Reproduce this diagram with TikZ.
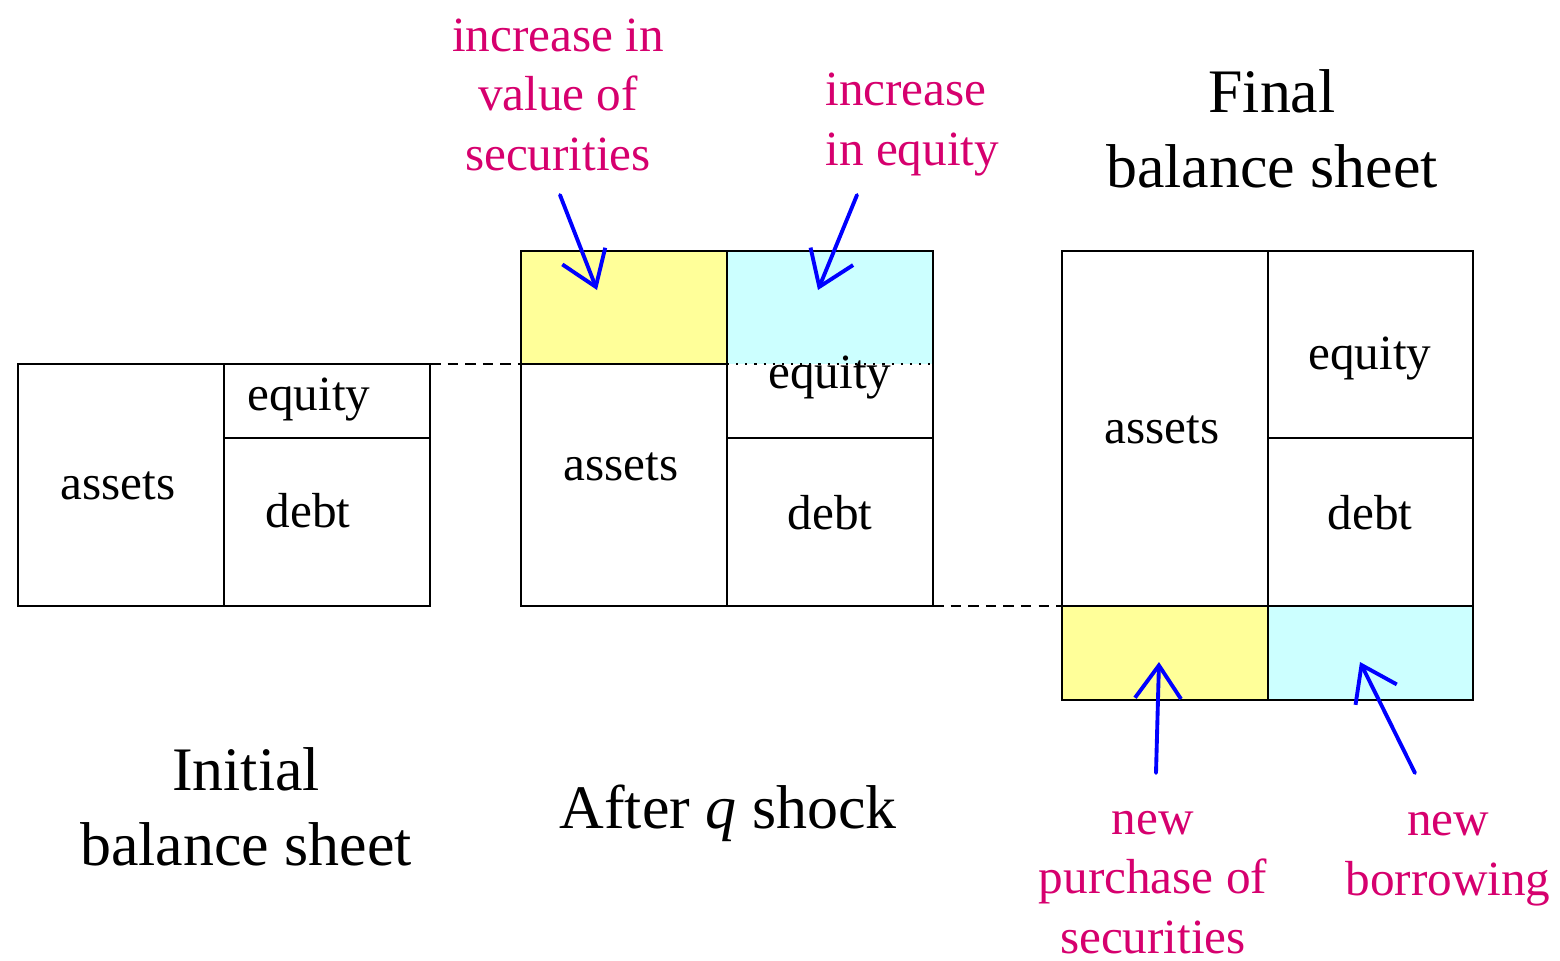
\documentclass[tikz,border=0pt]{standalone}
\usepackage{fontspec}
\setmainfont{Liberation Serif}
\usetikzlibrary{arrows.meta}
\definecolor{secyellow}{RGB}{255,255,153}
\definecolor{eqcyan}{RGB}{204,255,255}
\definecolor{notered}{RGB}{214,0,110}
\begin{document}
\begin{tikzpicture}[x=0.01cm,y=-0.01cm,
  cell/.style={draw,line width=0.6pt},
  lbl/.style={anchor=base,font=\fontsize{14}{16.8}\selectfont},
  ttl/.style={anchor=base,align=center,font=\fontsize{17.6}{21.3}\selectfont},
  note/.style={anchor=base,align=center,text=notered,font=\fontsize{14}{16.8}\selectfont},
  push/.style={-{Straight Barb[length=0.33cm,width=0.46cm]},blue,line width=1.1pt,line cap=round},
  guide/.style={line width=0.4pt,dash pattern=on 3pt off 2pt}]
  \useasboundingbox (0,0) rectangle (1560,960);
  % initial balance sheet
  \draw[cell] (18,364) rectangle (430,606);
  \draw[cell] (224,364) -- (224,606) (224,438) -- (430,438);
  \node[lbl] (ia) at (118,499) {assets};
  \node[lbl] (ie) at (309,410) {equity};
  \node[lbl] (id) at (308,527) {debt};
  \node[ttl] (it) at (246,865) {Initial\\balance sheet};
  % after the shock
  \fill[secyellow] (521,251) rectangle (727,364);
  \fill[eqcyan] (727,251) rectangle (933,364);
  \draw[cell] (521,251) rectangle (933,606);
  \draw[cell] (727,251) -- (727,606) (521,364) -- (727,364) (727,438) -- (933,438);
  \draw[line width=0.6pt,dotted] (727,364) -- (933,364);
  \draw[guide] (430,364) -- (521,364);
  \node[lbl] (sa) at (621,480) {assets};
  \node[lbl] (se) at (830,388) {equity};
  \node[lbl] (sd) at (830,529) {debt};
  \node[ttl] (st) at (728,828) {After \textit{q} shock};
  % final balance sheet
  \fill[secyellow] (1062,606) rectangle (1268,700);
  \fill[eqcyan] (1268,606) rectangle (1473,700);
  \draw[cell] (1062,251) rectangle (1473,700);
  \draw[cell] (1268,251) -- (1268,700) (1062,606) -- (1473,606) (1268,438) -- (1473,438);
  \draw[guide] (933,606) -- (1062,606);
  \node[lbl] (fa) at (1162,443) {assets};
  \node[lbl] (fe) at (1370,369) {equity};
  \node[lbl] (fd) at (1370,529) {debt};
  \node[ttl] (ft) at (1272,187) {Final\\balance sheet};
  % notes
  \node[note] (nv) at (558,170) {increase in\\value of\\securities};
  \node[note,align=left,anchor=base west] (ne) at (813,165) {increase\\in equity};
  \node[note] (np) at (1153,953) {new\\purchase of\\securities};
  \node[note] (nb) at (1448,895) {new\\borrowing};
  \coordinate (nv0) at (560,195);  \coordinate (nv1) at (597,290);
  \coordinate (ne0) at (857,195);  \coordinate (ne1) at (818,290);
  \coordinate (np0) at (1156,773); \coordinate (np1) at (1159,662);
  \coordinate (nb0) at (1415,773); \coordinate (nb1) at (1360,662);
  \draw[push] (nv0) -- (nv1);
  \draw[push] (ne0) -- (ne1);
  \draw[push] (np0) -- (np1);
  \draw[push] (nb0) -- (nb1);
\end{tikzpicture}
\end{document}
